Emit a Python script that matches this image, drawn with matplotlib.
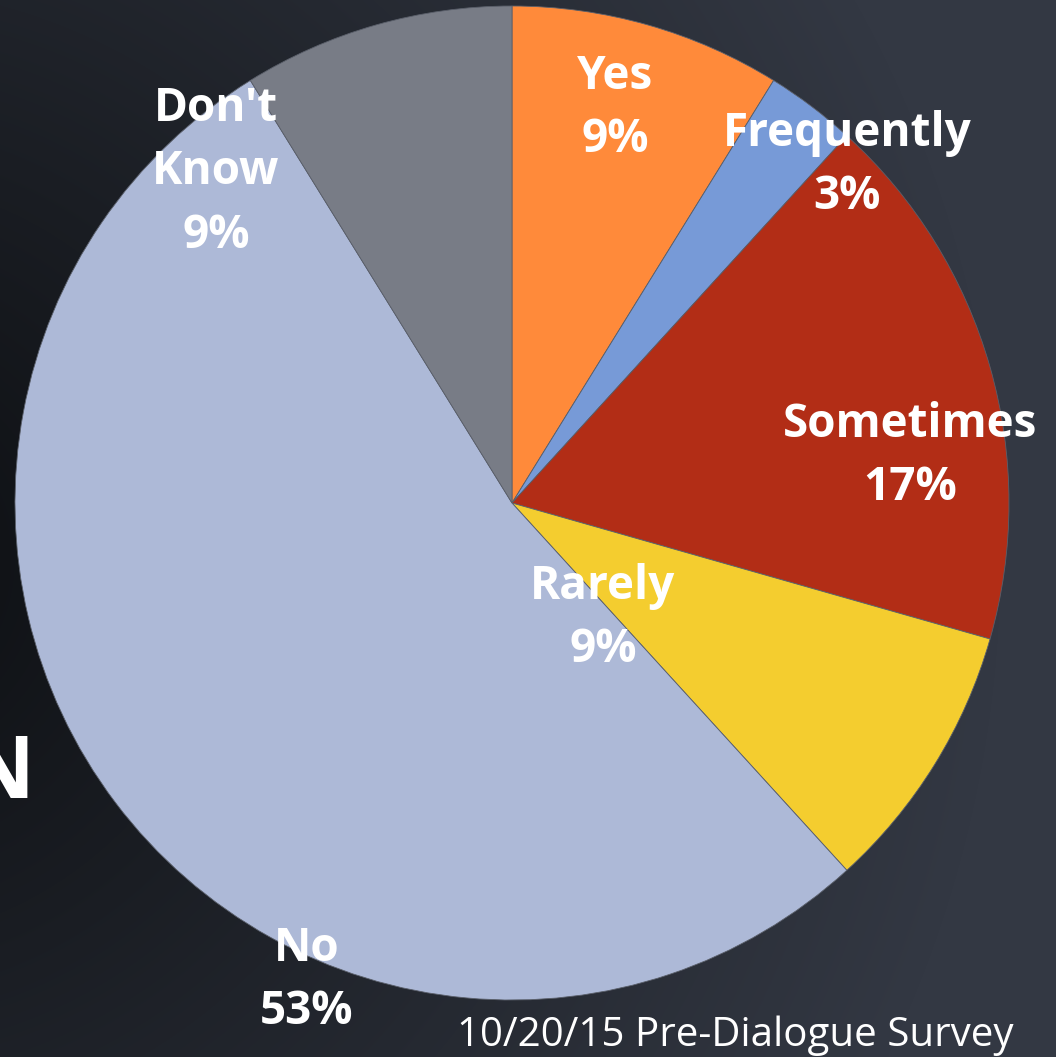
import numpy as np
import matplotlib
matplotlib.use("Agg")
import matplotlib.pyplot as plt
from matplotlib.colors import to_rgb

# ---- data ----
categories = ["Yes", "Frequently", "Sometimes", "Rarely", "No", "Don't\nKnow"]
counts = [3, 1, 6, 3, 18, 3]
pct_labels = ["9%", "3%", "17%", "9%", "53%", "9%"]
colors = ["#FF8A3A", "#779AD7", "#B22D16", "#F4CD2F", "#ADB9D7", "#787C86"]
subtitle = "10/20/15 Pre-Dialogue Survey"

# label block centres in pixel coordinates of the image
label_px = [(615, 108), (847, 165), (910, 456), (603, 618), (307, 980), (216, 172)]

W, H = 1056, 1057
fig = plt.figure(figsize=(W / 100, H / 100), dpi=100)

# ---- background gradient ----
bg = fig.add_axes([0, 0, 1, 1])
yy, xx = np.mgrid[0:H, 0:W]
d = np.sqrt((xx + 150.0) ** 2 + (yy - 560.0) ** 2)
t = np.clip(d / 1150.0, 0, 1)[..., None]
dark = np.array(to_rgb("#0c0e11"))
light = np.array(to_rgb("#333843"))
img = dark + (light - dark) * t
bg.imshow(img, extent=[0, W, H, 0], aspect="auto")
bg.set_xlim(0, W)
bg.set_ylim(H, 0)
bg.axis("off")

# cut-off title letter at left edge (as in the reference)
bg.text(34, 798, "N", color="white", fontsize=62, fontweight="bold",
        family="Open Sans", ha="right", va="baseline")

# ---- pie ----
cx, cy, R = 512, 503, 497
ax = fig.add_axes([(cx - R) / W, (H - cy - R) / H, 2 * R / W, 2 * R / H])
ax.pie(counts, colors=colors, startangle=90, counterclock=False,
       wedgeprops=dict(edgecolor="#5a5f6a", linewidth=0.6))
ax.set_xlim(-1, 1)
ax.set_ylim(-1, 1)
ax.axis("off")

for cat, pct, (px, py) in zip(categories, pct_labels, label_px):
    x = (px - cx) / R
    y = (cy - py) / R
    ax.text(x, y, f"{cat}\n{pct}", color="white", fontsize=33, fontweight="bold",
            family="Open Sans", ha="center", va="center", linespacing=1.45,
            clip_on=False)

bg.text(735, 1046, subtitle, color="white", fontsize=29, family="Open Sans",
        ha="center", va="baseline")

fig.savefig("out.png", dpi=100)
